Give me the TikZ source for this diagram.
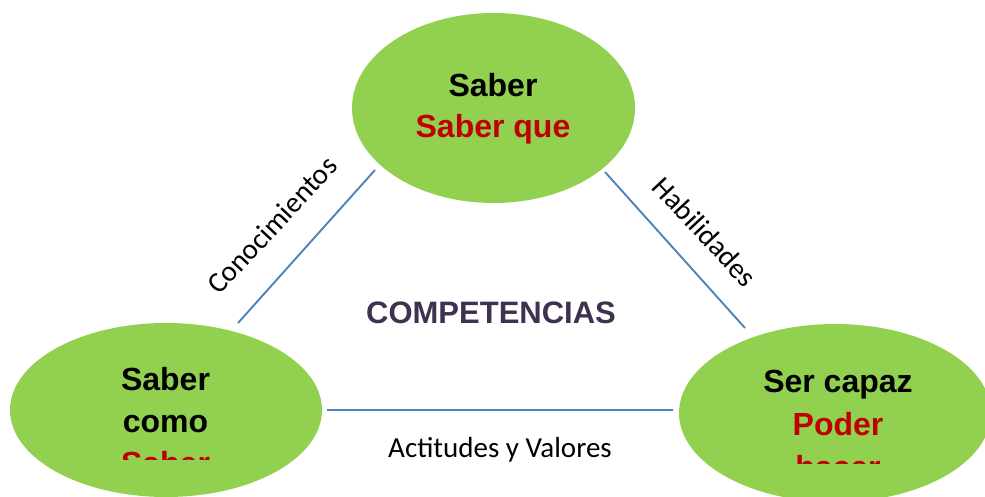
\documentclass[tikz,border=0pt]{standalone}
\usepackage{fontspec}
\setmainfont{Liberation Sans}
\newfontfamily\calib{Carlito}
\usetikzlibrary{shapes.geometric}
\definecolor{leaf}{HTML}{92D050}
\definecolor{deepred}{HTML}{C00000}
\definecolor{plum}{HTML}{3F3151}
\definecolor{linkblue}{HTML}{4F81BD}
\begin{document}
\begin{tikzpicture}[x=1pt,y=-1pt,
  blob/.style={ellipse, fill=leaf, draw=none, inner sep=0pt},
  big/.style={font=\fontsize{32}{40}\selectfont\bfseries, anchor=base, inner sep=0pt},
  lab/.style={font=\calib\fontsize{29}{34}\selectfont, inner sep=0pt},
  linkline/.style={draw=linkblue, line width=1.9pt}]
\useasboundingbox (0,0) rectangle (985,497);
\clip (0,0) rectangle (985,497);
% ellipses
\node[blob, minimum width=283pt, minimum height=190pt] (top) at (493.5,108) {};
\node[blob, minimum width=312pt, minimum height=174pt] (left) at (166,410) {};
\node[blob, minimum width=312pt, minimum height=178pt] (right) at (835,413) {};
% top text
\node[big] (t1) at (493,97) {Saber};
\node[big, text=deepred] (t2) at (493,138) {Saber que};
% left text (clipped)
\begin{scope}
\clip (0,300) rectangle (340,459);
\node[big] (l1) at (165.5,390) {Saber};
\node[big] (l2) at (165.5,432) {como};
\node[big, text=deepred] (l3) at (165.5,474) {Saber};
\end{scope}
% right text (clipped)
\begin{scope}
\clip (660,300) rectangle (985,463);
\node[big] (r1) at (838,392) {Ser capaz};
\node[big, text=deepred] (r2) at (838,435) {Poder};
\node[big, text=deepred] (r3) at (838,478) {hacer};
\end{scope}
% center title
\node[big, font=\fontsize{31}{38}\selectfont\bfseries, text=plum] (comp) at (491,323) {COMPETENCIAS};
% connectors
\coordinate (a1) at (238,323);
\coordinate (a2) at (375,170);
\coordinate (b1) at (605,172);
\coordinate (b2) at (745,328);
\coordinate (c1) at (327,410);
\coordinate (c2) at (673,410);
\draw[linkline] (a1) -- (a2);
\draw[linkline] (b1) -- (b2);
\draw[linkline] (c1) -- (c2);
% labels
\node[lab, rotate=47] (conoc) at (272,225) {Conocimientos};
\node[lab, rotate=-47] (habil) at (705,232) {Habilidades};
\node[lab, anchor=base] (actit) at (500,457) {Actitudes y Valores};
\end{tikzpicture}
\end{document}
